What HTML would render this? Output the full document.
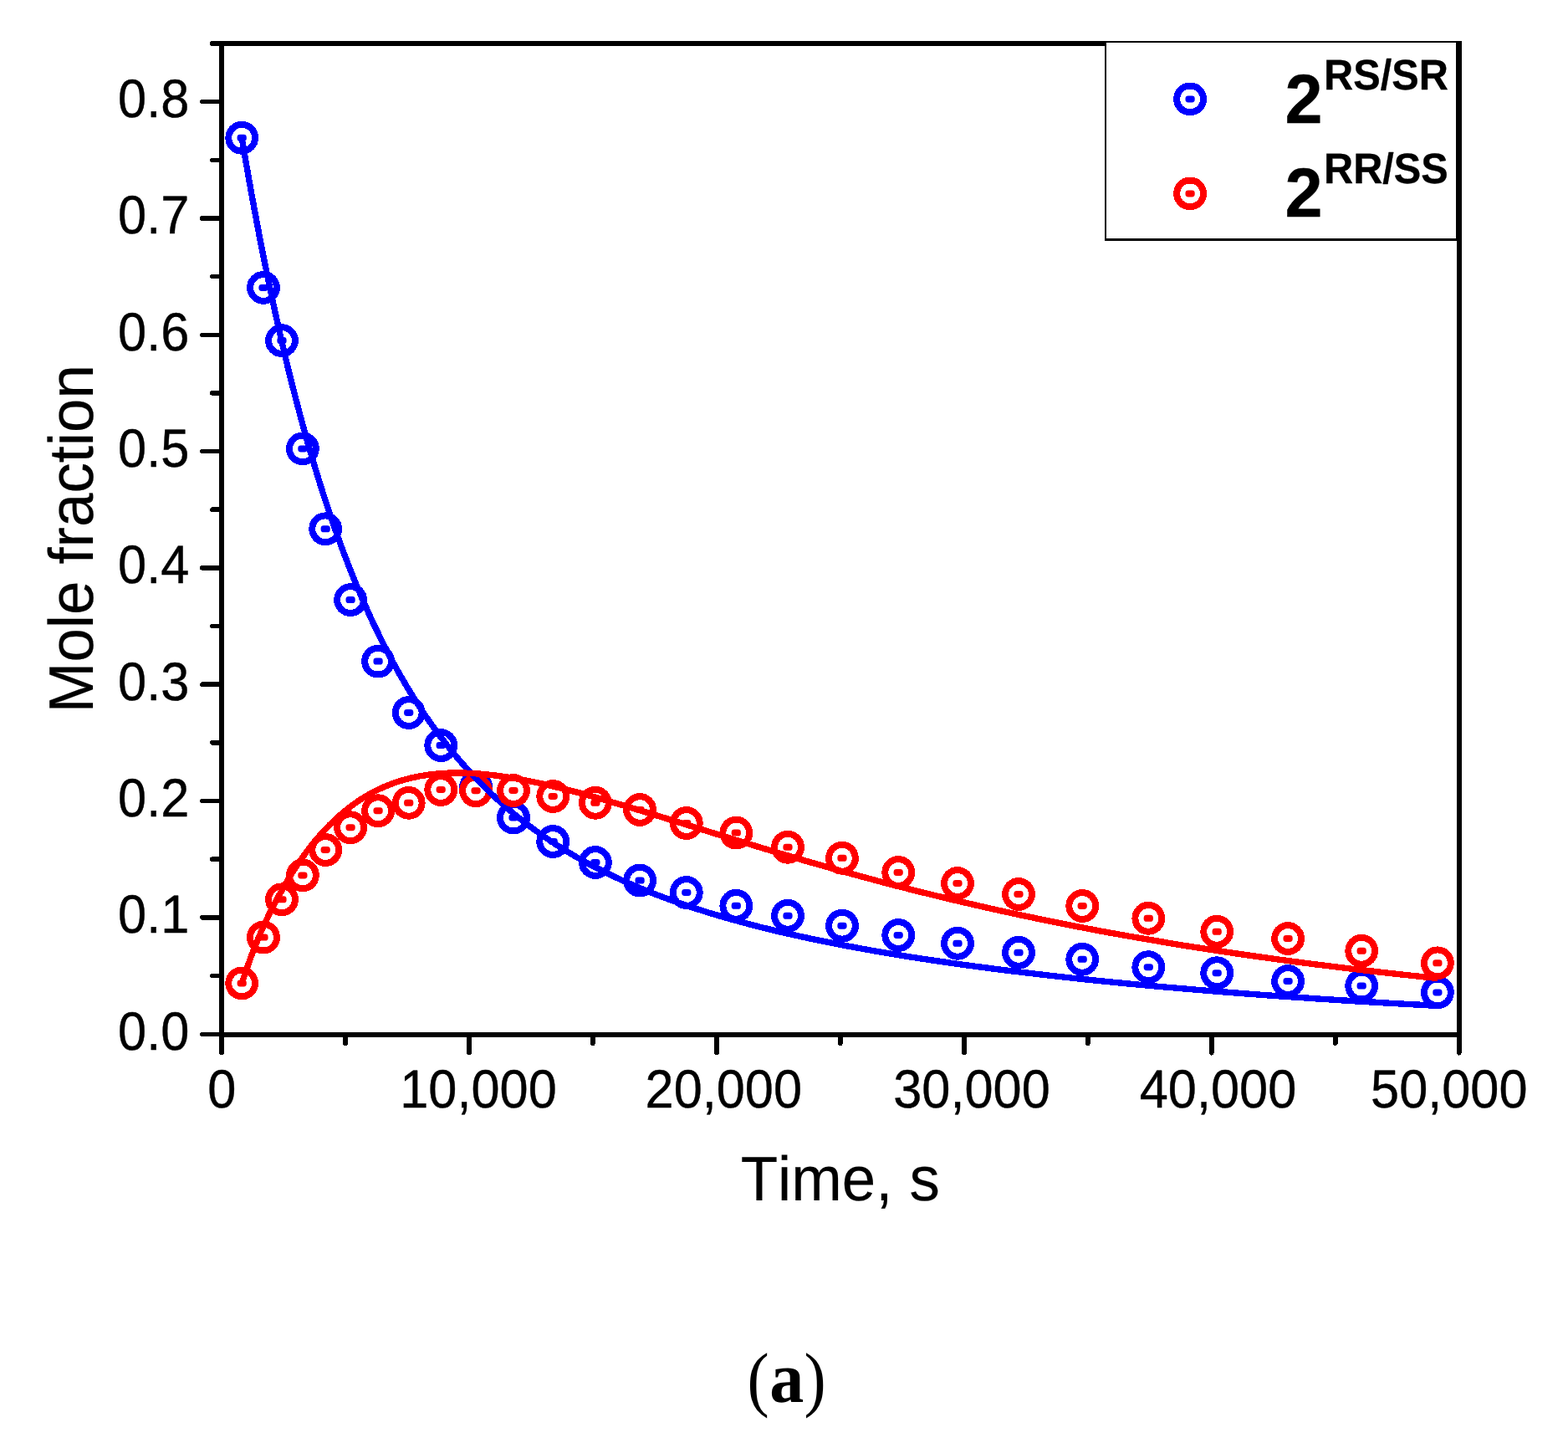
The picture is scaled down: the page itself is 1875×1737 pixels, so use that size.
<!DOCTYPE html>
<html lang="en"><head><meta charset="utf-8"><title>Mole fraction vs time (a)</title>
<style>
html,body{margin:0;padding:0;background:#fff;}
body{width:1875px;height:1737px;}
svg{display:block;}
circle,rect,line,path{shape-rendering:crispEdges;}
rect.d{shape-rendering:auto;}
text{font-family:"Liberation Sans",Arial,Helvetica,sans-serif;fill:#000;stroke:#000;stroke-width:0.4px;stroke-linejoin:round;font-kerning:none;font-variant-ligatures:none;text-rendering:geometricPrecision;}
.tick{font-size:61.3px;}
.title{font-size:72.7px;}
.ytitle{font-size:72.7px;}
.leg{font-weight:bold;font-size:81px;}
.sup{font-weight:bold;font-size:48.7px;}
.cap{font-family:"Liberation Serif","DejaVu Serif",serif;font-size:88px;stroke:none;}
.capb{font-weight:bold;}
.title,.ytitle{stroke-width:0.2px;}
.leg,.sup{stroke-width:0.3px;}
.ax{stroke:#000;fill:none;}
</style></head><body>
<svg xmlns="http://www.w3.org/2000/svg" width="1875" height="1737" viewBox="0 0 1875 1737">
<rect x="0" y="0" width="1875" height="1737" fill="#fff"/>
<g id="blue-points">
<circle cx="289.2" cy="164.8" r="15.90" fill="none" stroke="#0000ff" stroke-width="8.00"/><rect class="d" x="283.6" y="160.8" width="11.2" height="8.0" rx="3.4" ry="3.4" fill="#0000ff"/>
<circle cx="315.0" cy="343.9" r="15.90" fill="none" stroke="#0000ff" stroke-width="8.00"/><rect class="d" x="309.4" y="339.9" width="11.2" height="8.0" rx="3.4" ry="3.4" fill="#0000ff"/>
<circle cx="337.0" cy="407.1" r="15.90" fill="none" stroke="#0000ff" stroke-width="8.00"/><rect class="d" x="331.4" y="403.1" width="11.2" height="8.0" rx="3.4" ry="3.4" fill="#0000ff"/>
<circle cx="361.9" cy="536.4" r="15.90" fill="none" stroke="#0000ff" stroke-width="8.00"/><rect class="d" x="356.3" y="532.4" width="11.2" height="8.0" rx="3.4" ry="3.4" fill="#0000ff"/>
<circle cx="389.2" cy="632.3" r="15.90" fill="none" stroke="#0000ff" stroke-width="8.00"/><rect class="d" x="383.6" y="628.3" width="11.2" height="8.0" rx="3.4" ry="3.4" fill="#0000ff"/>
<circle cx="419.1" cy="717.1" r="15.90" fill="none" stroke="#0000ff" stroke-width="8.00"/><rect class="d" x="413.5" y="713.1" width="11.2" height="8.0" rx="3.4" ry="3.4" fill="#0000ff"/>
<circle cx="452.1" cy="790.6" r="15.90" fill="none" stroke="#0000ff" stroke-width="8.00"/><rect class="d" x="446.5" y="786.6" width="11.2" height="8.0" rx="3.4" ry="3.4" fill="#0000ff"/>
<circle cx="488.7" cy="852.0" r="15.90" fill="none" stroke="#0000ff" stroke-width="8.00"/><rect class="d" x="483.1" y="848.0" width="11.2" height="8.0" rx="3.4" ry="3.4" fill="#0000ff"/>
<circle cx="527.2" cy="891.1" r="15.90" fill="none" stroke="#0000ff" stroke-width="8.00"/><rect class="d" x="521.6" y="887.1" width="11.2" height="8.0" rx="3.4" ry="3.4" fill="#0000ff"/>
<circle cx="569.1" cy="940.7" r="15.90" fill="none" stroke="#0000ff" stroke-width="8.00"/><rect class="d" x="563.5" y="936.7" width="11.2" height="8.0" rx="3.4" ry="3.4" fill="#0000ff"/>
<circle cx="614.0" cy="977.5" r="15.90" fill="none" stroke="#0000ff" stroke-width="8.00"/><rect class="d" x="608.4" y="973.5" width="11.2" height="8.0" rx="3.4" ry="3.4" fill="#0000ff"/>
<circle cx="661.2" cy="1006.0" r="15.90" fill="none" stroke="#0000ff" stroke-width="8.00"/><rect class="d" x="655.6" y="1002.0" width="11.2" height="8.0" rx="3.4" ry="3.4" fill="#0000ff"/>
<circle cx="711.9" cy="1031.0" r="15.90" fill="none" stroke="#0000ff" stroke-width="8.00"/><rect class="d" x="706.3" y="1027.0" width="11.2" height="8.0" rx="3.4" ry="3.4" fill="#0000ff"/>
<circle cx="765.1" cy="1052.6" r="15.90" fill="none" stroke="#0000ff" stroke-width="8.00"/><rect class="d" x="759.5" y="1048.6" width="11.2" height="8.0" rx="3.4" ry="3.4" fill="#0000ff"/>
<circle cx="820.8" cy="1067.0" r="15.90" fill="none" stroke="#0000ff" stroke-width="8.00"/><rect class="d" x="815.2" y="1063.0" width="11.2" height="8.0" rx="3.4" ry="3.4" fill="#0000ff"/>
<circle cx="880.3" cy="1082.8" r="15.90" fill="none" stroke="#0000ff" stroke-width="8.00"/><rect class="d" x="874.7" y="1078.8" width="11.2" height="8.0" rx="3.4" ry="3.4" fill="#0000ff"/>
<circle cx="942.0" cy="1094.8" r="15.90" fill="none" stroke="#0000ff" stroke-width="8.00"/><rect class="d" x="936.4" y="1090.8" width="11.2" height="8.0" rx="3.4" ry="3.4" fill="#0000ff"/>
<circle cx="1007.0" cy="1106.7" r="15.90" fill="none" stroke="#0000ff" stroke-width="8.00"/><rect class="d" x="1001.4" y="1102.7" width="11.2" height="8.0" rx="3.4" ry="3.4" fill="#0000ff"/>
<circle cx="1074.2" cy="1118.0" r="15.90" fill="none" stroke="#0000ff" stroke-width="8.00"/><rect class="d" x="1068.6" y="1114.0" width="11.2" height="8.0" rx="3.4" ry="3.4" fill="#0000ff"/>
<circle cx="1145.0" cy="1127.8" r="15.90" fill="none" stroke="#0000ff" stroke-width="8.00"/><rect class="d" x="1139.4" y="1123.8" width="11.2" height="8.0" rx="3.4" ry="3.4" fill="#0000ff"/>
<circle cx="1218.0" cy="1138.8" r="15.90" fill="none" stroke="#0000ff" stroke-width="8.00"/><rect class="d" x="1212.4" y="1134.8" width="11.2" height="8.0" rx="3.4" ry="3.4" fill="#0000ff"/>
<circle cx="1294.2" cy="1146.8" r="15.90" fill="none" stroke="#0000ff" stroke-width="8.00"/><rect class="d" x="1288.6" y="1142.8" width="11.2" height="8.0" rx="3.4" ry="3.4" fill="#0000ff"/>
<circle cx="1373.3" cy="1156.2" r="15.90" fill="none" stroke="#0000ff" stroke-width="8.00"/><rect class="d" x="1367.7" y="1152.2" width="11.2" height="8.0" rx="3.4" ry="3.4" fill="#0000ff"/>
<circle cx="1455.2" cy="1163.2" r="15.90" fill="none" stroke="#0000ff" stroke-width="8.00"/><rect class="d" x="1449.6" y="1159.2" width="11.2" height="8.0" rx="3.4" ry="3.4" fill="#0000ff"/>
<circle cx="1540.1" cy="1173.0" r="15.90" fill="none" stroke="#0000ff" stroke-width="8.00"/><rect class="d" x="1534.5" y="1169.0" width="11.2" height="8.0" rx="3.4" ry="3.4" fill="#0000ff"/>
<circle cx="1628.2" cy="1178.6" r="15.90" fill="none" stroke="#0000ff" stroke-width="8.00"/><rect class="d" x="1622.6" y="1174.6" width="11.2" height="8.0" rx="3.4" ry="3.4" fill="#0000ff"/>
<circle cx="1718.9" cy="1186.4" r="15.90" fill="none" stroke="#0000ff" stroke-width="8.00"/><rect class="d" x="1713.3" y="1182.4" width="11.2" height="8.0" rx="3.4" ry="3.4" fill="#0000ff"/>
</g>
<g id="red-points-a">
<circle cx="289.2" cy="1175.4" r="15.90" fill="#fff" stroke="#ff0000" stroke-width="8.00"/><rect class="d" x="283.6" y="1171.4" width="11.2" height="8.0" rx="3.4" ry="3.4" fill="#ff0000"/>
<circle cx="315.0" cy="1120.6" r="15.90" fill="#fff" stroke="#ff0000" stroke-width="8.00"/><rect class="d" x="309.4" y="1116.6" width="11.2" height="8.0" rx="3.4" ry="3.4" fill="#ff0000"/>
<circle cx="337.0" cy="1075.3" r="15.90" fill="#fff" stroke="#ff0000" stroke-width="8.00"/><rect class="d" x="331.4" y="1071.3" width="11.2" height="8.0" rx="3.4" ry="3.4" fill="#ff0000"/>
<circle cx="361.9" cy="1046.4" r="15.90" fill="#fff" stroke="#ff0000" stroke-width="8.00"/><rect class="d" x="356.3" y="1042.4" width="11.2" height="8.0" rx="3.4" ry="3.4" fill="#ff0000"/>
<circle cx="389.2" cy="1016.0" r="15.90" fill="#fff" stroke="#ff0000" stroke-width="8.00"/><rect class="d" x="383.6" y="1012.0" width="11.2" height="8.0" rx="3.4" ry="3.4" fill="#ff0000"/>
<circle cx="419.1" cy="989.2" r="15.90" fill="#fff" stroke="#ff0000" stroke-width="8.00"/><rect class="d" x="413.5" y="985.2" width="11.2" height="8.0" rx="3.4" ry="3.4" fill="#ff0000"/>
<circle cx="452.1" cy="969.2" r="15.90" fill="#fff" stroke="#ff0000" stroke-width="8.00"/><rect class="d" x="446.5" y="965.2" width="11.2" height="8.0" rx="3.4" ry="3.4" fill="#ff0000"/>
<circle cx="488.7" cy="959.8" r="15.90" fill="#fff" stroke="#ff0000" stroke-width="8.00"/><rect class="d" x="483.1" y="955.8" width="11.2" height="8.0" rx="3.4" ry="3.4" fill="#ff0000"/>
<circle cx="527.2" cy="944.0" r="15.90" fill="#fff" stroke="#ff0000" stroke-width="8.00"/><rect class="d" x="521.6" y="940.0" width="11.2" height="8.0" rx="3.4" ry="3.4" fill="#ff0000"/>
<circle cx="569.1" cy="945.2" r="15.90" fill="#fff" stroke="#ff0000" stroke-width="8.00"/><rect class="d" x="563.5" y="941.2" width="11.2" height="8.0" rx="3.4" ry="3.4" fill="#ff0000"/>
</g>
<path id="blue-fit" d="M285.6,165.7 L288.0,180.1 L290.5,194.5 L293.0,208.9 L295.5,223.3 L298.1,237.7 L300.8,252.1 L303.5,266.5 L306.2,280.9 L309.0,295.2 L311.9,309.6 L314.8,323.9 L317.7,338.3 L320.8,352.6 L323.8,366.9 L327.0,381.2 L330.2,395.4 L333.5,409.7 L336.8,424.0 L340.2,438.2 L343.7,452.4 L347.3,466.6 L350.9,480.8 L354.7,494.9 L358.5,509.1 L362.4,523.2 L366.4,537.2 L370.6,551.3 L374.8,565.3 L379.1,579.3 L383.6,593.3 L388.1,607.2 L392.8,621.1 L397.6,634.9 L402.6,648.7 L407.7,662.4 L412.9,676.1 L418.3,689.8 L423.9,703.3 L429.6,716.8 L435.5,730.2 L441.6,743.6 L447.9,756.8 L454.4,770.0 L461.1,783.1 L468.0,796.0 L475.2,808.8 L482.6,821.5 L490.2,834.0 L498.2,846.4 L506.3,858.7 L514.8,870.7 L523.5,882.5 L532.5,894.2 L541.8,905.6 L551.3,916.7 L561.2,927.6 L571.4,938.3 L581.8,948.7 L592.6,958.7 L603.6,968.5 L614.9,977.9 L626.4,987.1 L638.2,995.9 L650.3,1004.3 L662.5,1012.5 L675.0,1020.3 L687.6,1027.8 L700.5,1035.0 L713.5,1041.8 L726.6,1048.4 L739.9,1054.6 L753.3,1060.6 L766.9,1066.3 L780.5,1071.8 L794.2,1077.0 L808.0,1082.0 L821.9,1086.8 L835.9,1091.3 L849.9,1095.7 L863.9,1099.8 L878.0,1103.8 L892.2,1107.7 L906.4,1111.3 L920.6,1114.9 L934.8,1118.3 L949.1,1121.5 L963.4,1124.7 L977.8,1127.7 L992.1,1130.6 L1006.5,1133.4 L1020.9,1136.1 L1035.3,1138.7 L1049.7,1141.3 L1064.1,1143.7 L1078.6,1146.1 L1093.0,1148.4 L1107.5,1150.6 L1122.0,1152.8 L1136.4,1154.9 L1150.9,1156.9 L1165.4,1158.9 L1179.9,1160.8 L1194.4,1162.7 L1209.0,1164.5 L1223.5,1166.2 L1238.0,1167.9 L1252.5,1169.6 L1267.1,1171.2 L1281.6,1172.8 L1296.2,1174.4 L1310.7,1175.9 L1325.3,1177.3 L1339.8,1178.8 L1354.4,1180.2 L1368.9,1181.5 L1383.5,1182.8 L1398.1,1184.1 L1412.6,1185.4 L1427.2,1186.6 L1441.8,1187.8 L1456.4,1189.0 L1470.9,1190.2 L1485.5,1191.3 L1500.1,1192.4 L1514.7,1193.5 L1529.3,1194.5 L1543.9,1195.5 L1558.5,1196.5 L1573.0,1197.5 L1587.6,1198.4 L1602.2,1199.4 L1616.8,1200.3 L1631.4,1201.2 L1646.0,1202.0 L1660.6,1202.9 L1675.2,1203.7 L1689.8,1204.5 L1704.4,1205.3 L1719.0,1206.1 L1719.4,1198.7 L1704.8,1197.9 L1690.2,1197.1 L1675.6,1196.3 L1661.0,1195.5 L1646.4,1194.6 L1631.9,1193.8 L1617.3,1192.9 L1602.7,1192.0 L1588.1,1191.1 L1573.5,1190.1 L1559.0,1189.1 L1544.4,1188.1 L1529.8,1187.1 L1515.2,1186.1 L1500.7,1185.0 L1486.1,1183.9 L1471.5,1182.8 L1457.0,1181.6 L1442.4,1180.5 L1427.8,1179.3 L1413.3,1178.0 L1398.7,1176.8 L1384.2,1175.5 L1369.6,1174.2 L1355.1,1172.8 L1340.5,1171.4 L1326.0,1170.0 L1311.5,1168.5 L1296.9,1167.0 L1282.4,1165.5 L1267.9,1163.9 L1253.4,1162.3 L1238.9,1160.6 L1224.4,1158.9 L1209.9,1157.1 L1195.4,1155.3 L1180.9,1153.4 L1166.4,1151.5 L1151.9,1149.6 L1137.5,1147.5 L1123.0,1145.4 L1108.6,1143.3 L1094.2,1141.1 L1079.7,1138.8 L1065.3,1136.4 L1050.9,1134.0 L1036.6,1131.5 L1022.2,1128.8 L1007.9,1126.1 L993.6,1123.3 L979.3,1120.4 L965.0,1117.4 L950.7,1114.3 L936.5,1111.1 L922.3,1107.7 L908.2,1104.2 L894.1,1100.5 L880.0,1096.7 L866.0,1092.7 L852.0,1088.6 L838.1,1084.3 L824.3,1079.8 L810.5,1075.0 L796.8,1070.1 L783.2,1064.9 L769.7,1059.5 L756.3,1053.8 L743.0,1047.9 L729.9,1041.7 L716.9,1035.2 L704.0,1028.5 L691.3,1021.4 L678.8,1014.0 L666.5,1006.3 L654.4,998.2 L642.6,989.9 L630.9,981.2 L619.5,972.2 L608.4,962.9 L597.6,953.2 L587.0,943.3 L576.7,933.1 L566.6,922.6 L556.9,911.8 L547.4,900.8 L538.3,889.6 L529.4,878.1 L520.8,866.4 L512.4,854.5 L504.3,842.4 L496.5,830.1 L489.0,817.7 L481.6,805.1 L474.5,792.4 L467.7,779.6 L461.0,766.7 L454.6,753.6 L448.3,740.5 L442.3,727.2 L436.4,713.9 L430.7,700.5 L425.2,687.0 L419.8,673.4 L414.6,659.8 L409.5,646.2 L404.6,632.4 L399.8,618.7 L395.1,604.9 L390.6,591.0 L386.2,577.1 L381.9,563.2 L377.7,549.2 L373.6,535.2 L369.6,521.2 L365.6,507.1 L361.8,493.0 L358.1,478.9 L354.5,464.8 L350.9,450.6 L347.4,436.4 L344.0,422.2 L340.7,408.0 L337.4,393.8 L334.2,379.6 L331.1,365.3 L328.0,351.0 L325.0,336.7 L322.0,322.4 L319.1,308.1 L316.3,293.8 L313.5,279.5 L310.8,265.1 L308.1,250.8 L305.4,236.4 L302.8,222.0 L300.3,207.7 L297.7,193.3 L295.3,178.9 L292.8,164.5Z" fill="#0000ff"/>
<g id="red-points-b">
<circle cx="614.0" cy="945.0" r="15.90" fill="none" stroke="#ff0000" stroke-width="8.00"/><rect class="d" x="608.4" y="941.0" width="11.2" height="8.0" rx="3.4" ry="3.4" fill="#ff0000"/>
<circle cx="661.2" cy="952.0" r="15.90" fill="none" stroke="#ff0000" stroke-width="8.00"/><rect class="d" x="655.6" y="948.0" width="11.2" height="8.0" rx="3.4" ry="3.4" fill="#ff0000"/>
<circle cx="711.9" cy="959.8" r="15.90" fill="none" stroke="#ff0000" stroke-width="8.00"/><rect class="d" x="706.3" y="955.8" width="11.2" height="8.0" rx="3.4" ry="3.4" fill="#ff0000"/>
<circle cx="765.1" cy="968.0" r="15.90" fill="none" stroke="#ff0000" stroke-width="8.00"/><rect class="d" x="759.5" y="964.0" width="11.2" height="8.0" rx="3.4" ry="3.4" fill="#ff0000"/>
<circle cx="820.8" cy="984.0" r="15.90" fill="none" stroke="#ff0000" stroke-width="8.00"/><rect class="d" x="815.2" y="980.0" width="11.2" height="8.0" rx="3.4" ry="3.4" fill="#ff0000"/>
<circle cx="880.3" cy="995.6" r="15.90" fill="none" stroke="#ff0000" stroke-width="8.00"/><rect class="d" x="874.7" y="991.6" width="11.2" height="8.0" rx="3.4" ry="3.4" fill="#ff0000"/>
<circle cx="942.0" cy="1012.8" r="15.90" fill="none" stroke="#ff0000" stroke-width="8.00"/><rect class="d" x="936.4" y="1008.8" width="11.2" height="8.0" rx="3.4" ry="3.4" fill="#ff0000"/>
<circle cx="1007.0" cy="1025.8" r="15.90" fill="none" stroke="#ff0000" stroke-width="8.00"/><rect class="d" x="1001.4" y="1021.8" width="11.2" height="8.0" rx="3.4" ry="3.4" fill="#ff0000"/>
<circle cx="1074.2" cy="1043.0" r="15.90" fill="none" stroke="#ff0000" stroke-width="8.00"/><rect class="d" x="1068.6" y="1039.0" width="11.2" height="8.0" rx="3.4" ry="3.4" fill="#ff0000"/>
<circle cx="1145.0" cy="1056.0" r="15.90" fill="none" stroke="#ff0000" stroke-width="8.00"/><rect class="d" x="1139.4" y="1052.0" width="11.2" height="8.0" rx="3.4" ry="3.4" fill="#ff0000"/>
<circle cx="1218.0" cy="1069.0" r="15.90" fill="none" stroke="#ff0000" stroke-width="8.00"/><rect class="d" x="1212.4" y="1065.0" width="11.2" height="8.0" rx="3.4" ry="3.4" fill="#ff0000"/>
<circle cx="1294.2" cy="1083.0" r="15.90" fill="none" stroke="#ff0000" stroke-width="8.00"/><rect class="d" x="1288.6" y="1079.0" width="11.2" height="8.0" rx="3.4" ry="3.4" fill="#ff0000"/>
<circle cx="1373.3" cy="1097.8" r="15.90" fill="none" stroke="#ff0000" stroke-width="8.00"/><rect class="d" x="1367.7" y="1093.8" width="11.2" height="8.0" rx="3.4" ry="3.4" fill="#ff0000"/>
<circle cx="1455.2" cy="1113.8" r="15.90" fill="none" stroke="#ff0000" stroke-width="8.00"/><rect class="d" x="1449.6" y="1109.8" width="11.2" height="8.0" rx="3.4" ry="3.4" fill="#ff0000"/>
<circle cx="1540.1" cy="1122.0" r="15.90" fill="none" stroke="#ff0000" stroke-width="8.00"/><rect class="d" x="1534.5" y="1118.0" width="11.2" height="8.0" rx="3.4" ry="3.4" fill="#ff0000"/>
<circle cx="1628.2" cy="1136.8" r="15.90" fill="none" stroke="#ff0000" stroke-width="8.00"/><rect class="d" x="1622.6" y="1132.8" width="11.2" height="8.0" rx="3.4" ry="3.4" fill="#ff0000"/>
<circle cx="1718.9" cy="1151.3" r="15.90" fill="none" stroke="#ff0000" stroke-width="8.00"/><rect class="d" x="1713.3" y="1147.3" width="11.2" height="8.0" rx="3.4" ry="3.4" fill="#ff0000"/>
</g>
<path id="red-fit" d="M292.7,1176.7 L296.3,1165.8 L300.0,1155.1 L303.9,1144.4 L308.0,1133.7 L312.3,1123.1 L316.7,1112.6 L321.5,1102.2 L326.5,1091.9 L331.7,1081.7 L337.2,1071.6 L342.9,1061.6 L348.6,1051.8 L354.6,1042.1 L360.8,1032.6 L367.3,1023.4 L374.2,1014.3 L381.3,1005.5 L388.8,997.0 L396.6,988.9 L404.8,981.1 L413.2,973.7 L421.9,966.7 L431.0,960.3 L440.4,954.4 L450.1,949.1 L460.1,944.3 L470.4,940.2 L480.9,936.7 L491.6,933.8 L502.4,931.5 L513.5,929.8 L524.6,928.6 L535.7,927.9 L546.9,927.7 L558.1,927.9 L569.4,928.5 L580.6,929.5 L591.8,930.7 L603.0,932.3 L614.2,934.0 L625.4,936.0 L636.5,938.2 L647.6,940.6 L658.7,943.2 L669.8,945.8 L680.8,948.6 L691.9,951.5 L702.9,954.5 L713.9,957.5 L724.9,960.7 L735.8,963.9 L746.8,967.1 L757.7,970.4 L768.7,973.7 L779.6,977.0 L790.5,980.4 L801.4,983.8 L812.4,987.1 L823.3,990.5 L834.2,993.9 L845.1,997.3 L856.1,1000.7 L867.0,1004.1 L877.9,1007.4 L888.9,1010.8 L899.8,1014.1 L910.8,1017.4 L921.7,1020.7 L932.7,1024.0 L943.7,1027.2 L954.6,1030.5 L965.6,1033.7 L976.6,1036.8 L987.6,1039.9 L998.7,1043.0 L1009.7,1046.1 L1020.7,1049.2 L1031.8,1052.2 L1042.8,1055.1 L1053.9,1058.1 L1065.0,1061.0 L1076.1,1063.8 L1087.2,1066.7 L1098.3,1069.5 L1109.4,1072.2 L1120.5,1074.9 L1131.6,1077.6 L1142.8,1080.3 L1153.9,1082.9 L1165.1,1085.5 L1176.2,1088.0 L1187.4,1090.5 L1198.6,1093.0 L1209.7,1095.4 L1220.9,1097.8 L1232.1,1100.2 L1243.4,1102.5 L1254.6,1104.8 L1265.8,1107.1 L1277.0,1109.3 L1288.3,1111.5 L1299.5,1113.6 L1310.7,1115.8 L1322.0,1117.9 L1333.3,1119.9 L1344.5,1121.9 L1355.8,1123.9 L1367.1,1125.9 L1378.4,1127.8 L1389.6,1129.7 L1400.9,1131.6 L1412.2,1133.5 L1423.5,1135.3 L1434.8,1137.1 L1446.2,1138.8 L1457.5,1140.5 L1468.8,1142.2 L1480.1,1143.9 L1491.4,1145.5 L1502.8,1147.2 L1514.1,1148.7 L1525.4,1150.3 L1536.8,1151.8 L1548.1,1153.4 L1559.5,1154.8 L1570.8,1156.3 L1582.2,1157.7 L1593.5,1159.1 L1604.9,1160.5 L1616.3,1161.9 L1627.6,1163.2 L1639.0,1164.6 L1650.4,1165.9 L1661.7,1167.1 L1673.1,1168.4 L1684.5,1169.6 L1695.9,1170.8 L1707.2,1172.0 L1718.6,1173.2 L1719.4,1165.8 L1708.0,1164.7 L1696.6,1163.5 L1685.3,1162.3 L1673.9,1161.0 L1662.5,1159.8 L1651.2,1158.5 L1639.8,1157.2 L1628.5,1155.9 L1617.1,1154.6 L1605.8,1153.2 L1594.4,1151.8 L1583.1,1150.4 L1571.8,1149.0 L1560.4,1147.5 L1549.1,1146.0 L1537.8,1144.5 L1526.4,1143.0 L1515.1,1141.4 L1503.8,1139.8 L1492.5,1138.2 L1481.2,1136.6 L1469.9,1134.9 L1458.6,1133.2 L1447.3,1131.5 L1436.0,1129.7 L1424.7,1128.0 L1413.4,1126.2 L1402.1,1124.3 L1390.9,1122.4 L1379.6,1120.5 L1368.3,1118.6 L1357.1,1116.7 L1345.8,1114.7 L1334.6,1112.6 L1323.3,1110.6 L1312.1,1108.5 L1300.9,1106.4 L1289.7,1104.2 L1278.4,1102.0 L1267.2,1099.8 L1256.0,1097.6 L1244.8,1095.3 L1233.7,1092.9 L1222.5,1090.6 L1211.3,1088.2 L1200.1,1085.8 L1189.0,1083.3 L1177.8,1080.8 L1166.7,1078.2 L1155.6,1075.7 L1144.5,1073.1 L1133.3,1070.4 L1122.2,1067.7 L1111.1,1065.0 L1100.0,1062.3 L1089.0,1059.5 L1077.9,1056.7 L1066.8,1053.8 L1055.8,1050.9 L1044.7,1048.0 L1033.7,1045.0 L1022.7,1042.0 L1011.7,1039.0 L1000.7,1035.9 L989.7,1032.8 L978.7,1029.7 L967.7,1026.5 L956.7,1023.4 L945.7,1020.1 L934.8,1016.9 L923.8,1013.6 L912.9,1010.4 L902.0,1007.0 L891.0,1003.7 L880.1,1000.4 L869.2,997.0 L858.2,993.6 L847.3,990.3 L836.4,986.9 L825.5,983.5 L814.6,980.1 L803.6,976.7 L792.7,973.3 L781.8,969.9 L770.8,966.6 L759.9,963.3 L748.9,960.0 L737.9,956.8 L726.9,953.6 L715.9,950.4 L704.8,947.3 L693.8,944.3 L682.7,941.4 L671.6,938.6 L660.4,935.9 L649.2,933.4 L638.0,931.0 L626.7,928.8 L615.5,926.7 L604.1,924.9 L592.8,923.4 L581.3,922.1 L569.9,921.1 L558.4,920.5 L546.9,920.3 L535.4,920.5 L524.0,921.2 L512.5,922.5 L501.1,924.2 L489.9,926.6 L478.8,929.6 L467.9,933.3 L457.2,937.5 L446.7,942.5 L436.6,948.0 L426.9,954.1 L417.5,960.8 L408.4,968.0 L399.8,975.6 L391.4,983.6 L383.3,992.0 L375.7,1000.8 L368.3,1009.8 L361.4,1019.0 L354.7,1028.5 L348.3,1038.1 L342.3,1048.0 L336.5,1057.9 L330.7,1068.0 L325.2,1078.3 L319.9,1088.6 L314.8,1099.1 L310.0,1109.7 L305.5,1120.3 L301.1,1131.0 L297.0,1141.8 L293.1,1152.6 L289.3,1163.5 L285.7,1174.4Z" fill="#ff0000"/>
<g class="ax" stroke-width="5.8" stroke-linecap="butt">
<line x1="265.0" y1="49.1" x2="265.0" y2="1239.5"/>
<line x1="1744.8" y1="49.1" x2="1744.8" y2="1239.5"/>
<line x1="262.1" y1="52.0" x2="1747.7" y2="52.0"/>
<line x1="262.1" y1="1236.6" x2="1747.7" y2="1236.6"/>
</g>
<g class="ax" stroke-width="5.5" stroke-linecap="round">
<line x1="241.8" y1="1236.6" x2="265.0" y2="1236.6"/>
<line x1="253.8" y1="1166.4" x2="265.0" y2="1166.4"/>
<line x1="241.8" y1="1096.8" x2="265.0" y2="1096.8"/>
<line x1="253.8" y1="1027.1" x2="265.0" y2="1027.1"/>
<line x1="241.8" y1="957.5" x2="265.0" y2="957.5"/>
<line x1="253.8" y1="887.8" x2="265.0" y2="887.8"/>
<line x1="241.8" y1="818.2" x2="265.0" y2="818.2"/>
<line x1="253.8" y1="748.5" x2="265.0" y2="748.5"/>
<line x1="241.8" y1="678.9" x2="265.0" y2="678.9"/>
<line x1="253.8" y1="609.2" x2="265.0" y2="609.2"/>
<line x1="241.8" y1="539.6" x2="265.0" y2="539.6"/>
<line x1="253.8" y1="469.9" x2="265.0" y2="469.9"/>
<line x1="241.8" y1="400.3" x2="265.0" y2="400.3"/>
<line x1="253.8" y1="330.6" x2="265.0" y2="330.6"/>
<line x1="241.8" y1="261.0" x2="265.0" y2="261.0"/>
<line x1="253.8" y1="191.3" x2="265.0" y2="191.3"/>
<line x1="241.8" y1="121.7" x2="265.0" y2="121.7"/>
<line x1="253.8" y1="52.0" x2="265.0" y2="52.0"/>
<line x1="265.0" y1="1236.6" x2="265.0" y2="1258.8"/>
<line x1="413.0" y1="1236.6" x2="413.0" y2="1247.2"/>
<line x1="561.0" y1="1236.6" x2="561.0" y2="1258.8"/>
<line x1="708.9" y1="1236.6" x2="708.9" y2="1247.2"/>
<line x1="856.9" y1="1236.6" x2="856.9" y2="1258.8"/>
<line x1="1004.9" y1="1236.6" x2="1004.9" y2="1247.2"/>
<line x1="1152.9" y1="1236.6" x2="1152.9" y2="1258.8"/>
<line x1="1300.9" y1="1236.6" x2="1300.9" y2="1247.2"/>
<line x1="1448.8" y1="1236.6" x2="1448.8" y2="1258.8"/>
<line x1="1596.8" y1="1236.6" x2="1596.8" y2="1247.2"/>
<line x1="1744.8" y1="1236.6" x2="1744.8" y2="1258.8"/>
</g>
<text class="tick" transform="translate(226.30,1254.90) scale(1.0000,1.0500)" text-anchor="end">0.0</text>
<text class="tick" transform="translate(226.30,1115.10) scale(1.0000,1.0500)" text-anchor="end">0.1</text>
<text class="tick" transform="translate(226.30,975.80) scale(1.0000,1.0500)" text-anchor="end">0.2</text>
<text class="tick" transform="translate(226.30,836.50) scale(1.0000,1.0500)" text-anchor="end">0.3</text>
<text class="tick" transform="translate(226.30,697.20) scale(1.0000,1.0500)" text-anchor="end">0.4</text>
<text class="tick" transform="translate(226.30,557.90) scale(1.0000,1.0500)" text-anchor="end">0.5</text>
<text class="tick" transform="translate(226.30,418.60) scale(1.0000,1.0500)" text-anchor="end">0.6</text>
<text class="tick" transform="translate(226.30,279.30) scale(1.0000,1.0500)" text-anchor="end">0.7</text>
<text class="tick" transform="translate(226.30,140.00) scale(1.0000,1.0500)" text-anchor="end">0.8</text>
<text class="tick" transform="translate(265.20,1324.30) scale(1.0000,1.0500)" text-anchor="middle">0</text>
<text class="tick" transform="translate(572.00,1324.30) scale(1.0000,1.0500)" text-anchor="middle">10,000</text>
<text class="tick" transform="translate(865.30,1324.30) scale(1.0000,1.0500)" text-anchor="middle">20,000</text>
<text class="tick" transform="translate(1162.00,1324.30) scale(1.0000,1.0500)" text-anchor="middle">30,000</text>
<text class="tick" transform="translate(1456.50,1324.30) scale(1.0000,1.0500)" text-anchor="middle">40,000</text>
<text class="tick" transform="translate(1732.80,1324.30) scale(1.0000,1.0500)" text-anchor="middle">50,000</text>
<text class="title" transform="translate(1004.80,1434.90) scale(1.0000,1.0350)" text-anchor="middle">Time, s</text>
<text class="ytitle" transform="translate(110.60,644.10) rotate(-90) scale(1.0000,1.0350)" text-anchor="middle">Mole fraction</text>
<rect x="1321.80" y="50.05" width="420.20" height="236.45" fill="#fff" stroke="#000" stroke-width="2.5"/>
<line class="ax" stroke-width="5.8" x1="1744.8" y1="49.1" x2="1744.8" y2="291.5"/>
<circle cx="1423.1" cy="118.4" r="15.90" fill="none" stroke="#0000ff" stroke-width="8.00"/><rect class="d" x="1417.5" y="114.4" width="11.2" height="8.0" rx="3.4" ry="3.4" fill="#0000ff"/>
<circle cx="1423.1" cy="231.4" r="15.90" fill="none" stroke="#ff0000" stroke-width="8.00"/><rect class="d" x="1417.5" y="227.4" width="11.2" height="8.0" rx="3.4" ry="3.4" fill="#ff0000"/>
<text class="leg" transform="translate(1536.50,146.90) scale(1.0000,1.0250)" text-anchor="start">2</text>
<text class="sup" transform="translate(1583.00,106.70) scale(1.0000,1.0500)" text-anchor="start">RS/SR</text>
<text class="leg" transform="translate(1536.50,258.90) scale(1.0000,1.0250)" text-anchor="start">2</text>
<text class="sup" transform="translate(1583.00,218.70) scale(1.0000,1.0500)" text-anchor="start">RR/SS</text>
<text class="cap" transform="translate(893.50,1676.80) scale(0.8940,0.9800)" text-anchor="start">(</text>
<text class="cap capb" transform="translate(920.25,1676.40) scale(0.9340,0.9800)" text-anchor="start">a</text>
<text class="cap" transform="translate(961.50,1676.80) scale(0.8940,0.9800)" text-anchor="start">)</text>
</svg>
</body></html>
